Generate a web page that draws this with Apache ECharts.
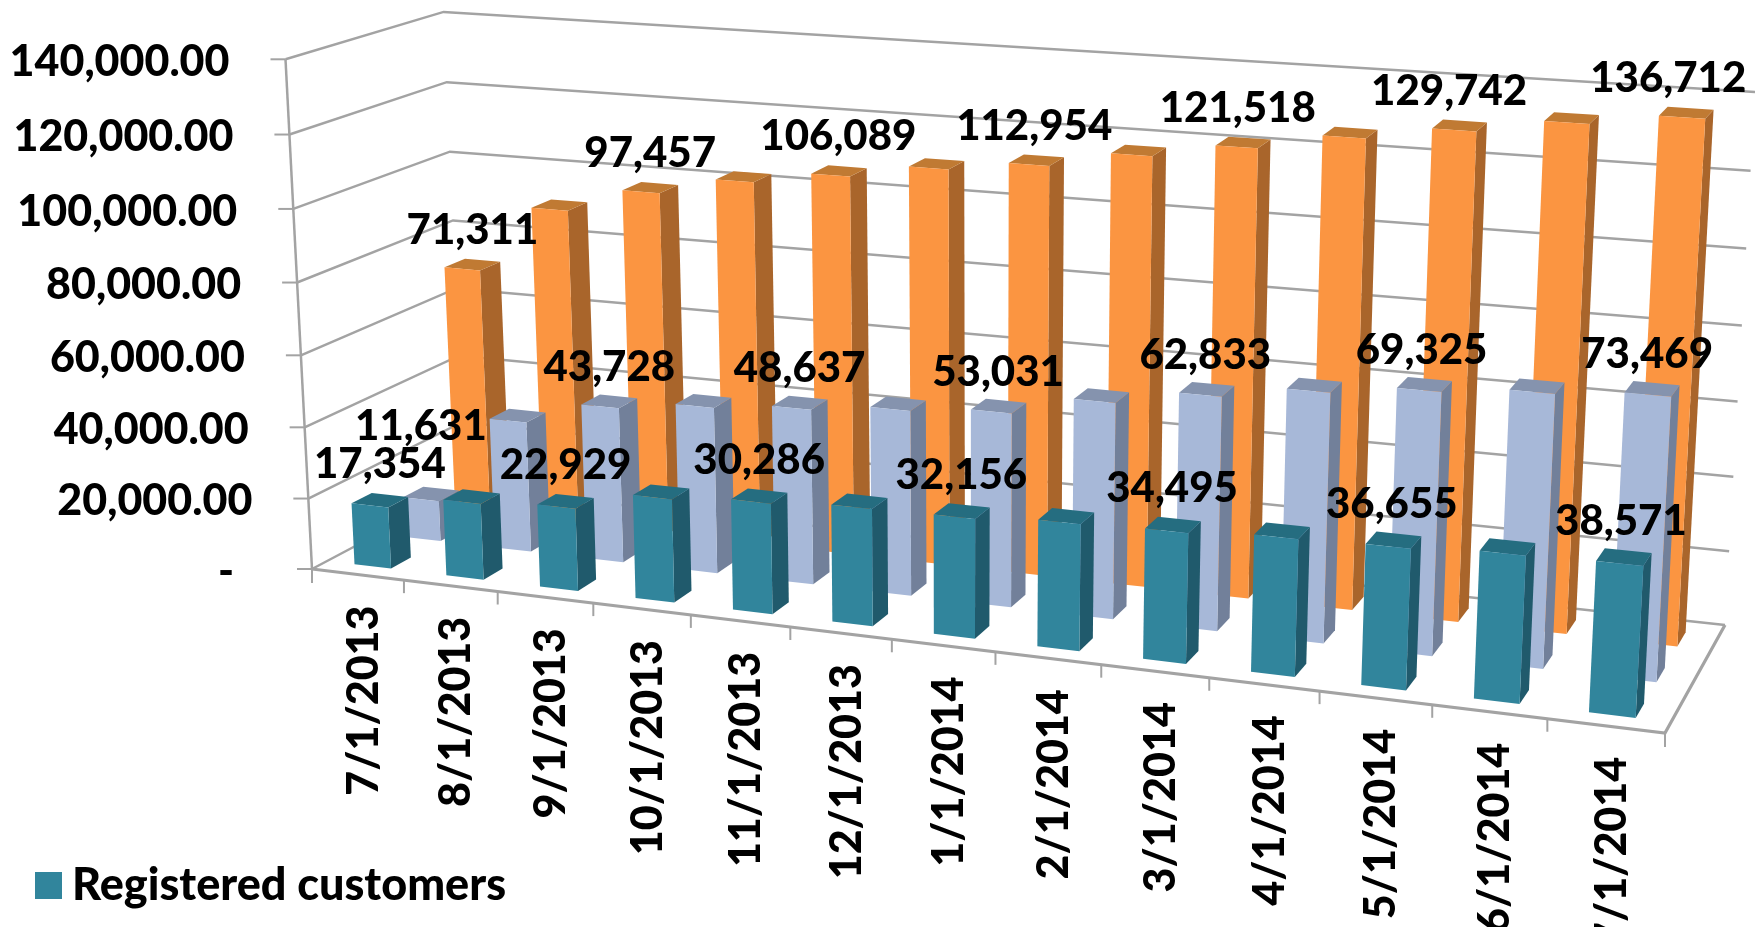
<!DOCTYPE html>
<html>
<head>
<meta charset="utf-8">
<style>html,body{margin:0;padding:0;background:#fff;overflow:hidden}#chart{width:1755px;height:927px}</style>
<script src="https://cdn.jsdelivr.net/npm/echarts@6/dist/echarts.min.js"></script>
</head>
<body>
<div id="chart"></div>
<script>
// Monthly customer counts, one list per row of bars (front to back).
const months = ['7/1/2013','8/1/2013','9/1/2013','10/1/2013','11/1/2013','12/1/2013','1/1/2014','2/1/2014','3/1/2014','4/1/2014','5/1/2014','6/1/2014','7/1/2014'];
const registered = [17354,21300,22929,28500,30286,31800,32156,33800,34495,36000,36655,38000,38571];
const middleRow = [11631,37000,43728,46500,48637,51000,53031,58500,62833,66500,69325,71500,73469];
const backRow = [71311,90500,97457,102500,106089,110000,112954,117500,121518,126000,129742,133500,136712];
const yTicks = [0,20000,40000,60000,80000,100000,120000,140000];
const yTickLabels = ['-','20,000.00','40,000.00','60,000.00','80,000.00','100,000.00','120,000.00','140,000.00'];

// View of the 3D box: where its corners land on the page.
const floor = {fl:[312,569], fr:[1665,733], br:[1725,625], bl:[465,488]};
const ceil  = {fl:[285.5,59.3], fr:[1695,160], br:[1755,92], bl:[443.6,11.9]};
const foreshortenX = -0.125, foreshortenY = -0.0375;
const GRID = '#a3a3a3';
const FAMILY = 'Lato, Carlito, "Noto Sans", sans-serif';
const FONT = '900 42px ' + FAMILY;
const AXIS_FONT = '900 43px ' + FAMILY;

function quad(q, s, d) {
  const a = [q.fl[0] + (q.fr[0]-q.fl[0])*s, q.fl[1] + (q.fr[1]-q.fl[1])*s];
  const b = [q.bl[0] + (q.br[0]-q.bl[0])*s, q.bl[1] + (q.br[1]-q.bl[1])*s];
  return [a[0] + (b[0]-a[0])*d, a[1] + (b[1]-a[1])*d];
}
// u along the months, d from front to back, v up the value scale (all 0..1).
function project(u, d, v) {
  const s = u*(1+foreshortenX)/(1+foreshortenX*u);
  const h = v*(1+foreshortenY)/(1+foreshortenY*v);
  const p0 = quad(floor, s, d), p1 = quad(ceil, s, d);
  return [p0[0] + (p1[0]-p0[0])*h, p0[1] + (p1[1]-p0[1])*h];
}
// Turn an axis position into the unit coordinates of the box.
function unit(params, api, cat, val) {
  const c = api.coord([cat, val]), r = params.coordSys;
  return {u:(c[0]-r.x)/r.width, v:(r.y+r.height-c[1])/r.height, band:api.size([1,0])[0]/r.width};
}

const ROWS = 3, BAR = 0.4;
function barRenderer(row, colors) {
  return function (params, api) {
    const m = unit(params, api, api.value(0), api.value(1));
    const u0 = m.u - m.band*BAR/2, u1 = m.u + m.band*BAR/2;
    const mid = (row+0.5)/ROWS, half = BAR/ROWS/2;
    const d0 = mid-half, d1 = mid+half, v = m.v;
    const A = project(u0,d0,0), B = project(u1,d0,0), C = project(u1,d1,0);
    const E = project(u0,d0,v), F = project(u1,d0,v), G = project(u1,d1,v), H = project(u0,d1,v);
    return {type:'group', children:[
      {type:'polygon', shape:{points:[B,C,G,F]}, style:{fill:colors.side}},
      {type:'polygon', shape:{points:[E,F,G,H]}, style:{fill:colors.top}},
      {type:'polygon', shape:{points:[A,B,F,E]}, style:{fill:colors.front}}
    ]};
  };
}
// Value labels sit above the bar, on every second month; drift pulls the
// right-hand ones back inside the page. The short first bar of the middle
// row has its label raised clear of its neighbour.
function labelRenderer(row, lift, drift, raised) {
  return function (params, api) {
    const cat = api.value(0), val = api.value(1);
    if (cat % 2) return null;
    const m = unit(params, api, cat, val);
    const p = project(m.u, (row+0.5)/ROWS, m.v);
    const t = cat/(months.length-1);
    let x = p[0] + drift*t*t*t, y = p[1]-lift;
    if (raised && cat === 0) { x += raised[0]; y += raised[1]; }
    return {type:'text', style:{text:val.toLocaleString('en-US'), x, y, font:FONT, fill:'#000', align:'center', verticalAlign:'middle'}};
  };
}
function line(points, width) {
  return {type:'polyline', shape:{points}, style:{stroke:GRID, lineWidth:width, fill:null}};
}
function wallRenderer(params, api) {
  const m = unit(params, api, 0, api.value(1));
  const idx = params.dataIndex;
  const a = project(0,0,m.v), b = project(0,1,m.v), c = project(1,1,m.v);
  const right = a[0] - (idx === 0 ? 78 : 56);
  return {type:'group', children:[
    line([a,b,c], 2.5),
    line([[a[0]-15,a[1]], a], 2),
    {type:'text', style:{text:yTickLabels[idx], x:right, y:a[1]+3, font:AXIS_FONT, fill:'#000', align:'right', verticalAlign:'middle'}}
  ]};
}
function frameRenderer(params, api) {
  const top = unit(params, api, 0, yTicks[yTicks.length-1]);
  return {type:'group', children:[
    line([project(0,0,0), project(0,0,top.v)], 2.5),
    line([project(0,0,0), project(1,0,0), project(1,1,0)], 3.2)
  ]};
}
function monthRenderer(params, api) {
  const cat = api.value(0);
  const m = unit(params, api, cat, 0);
  const t = project(m.u - m.band/2, 0, 0);
  const mid = project(m.u, 0, 0);
  const children = [
    line([t, [t[0], t[1]+(cat === 0 ? 14 : 13)]], 2),
    {type:'text', x:mid[0]+6, y:mid[1]+31, rotation:Math.PI/2,
     style:{text:months[cat], x:0, y:0, font:AXIS_FONT, fill:'#000', align:'right', verticalAlign:'middle'}}
  ];
  if (cat === months.length-1) {
    const e = project(1,0,0);
    children.push(line([e, [e[0], e[1]+14]], 2));
  }
  return {type:'group', children};
}
const pairs = list => list.map((v,i) => [i,v]);
const custom = (name, z, renderItem, data) => ({name, type:'custom', coordinateSystem:'cartesian2d', z, renderItem, data, silent:true, encode:{x:0,y:1}, animation:false});

const chart = echarts.init(document.getElementById('chart'), null, {renderer:'canvas'});
chart.setOption({
  animation:false,
  backgroundColor:'#fff',
  grid:{left:0,right:0,top:0,bottom:0},
  xAxis:{type:'category', data:months, show:false},
  yAxis:{type:'value', min:0, max:140000, interval:20000, show:false},
  legend:{data:[{name:'Registered customers', icon:'rect', itemStyle:{color:'#31859c'}}], left:30, top:858, itemWidth:27, itemHeight:27, itemGap:0, selectedMode:false,
          textStyle:{fontFamily:FAMILY, fontWeight:900, fontSize:45, color:'#000', padding:[0,0,0,5]}},
  series:[
    custom('Walls', 1, wallRenderer, yTicks.map(t => [0,t])),
    custom('Frame', 2, frameRenderer, [[0,0]]),
    custom('Months', 2, monthRenderer, months.map((m,i) => [i,0])),
    custom('Back row', 3, barRenderer(2,{front:'#fb9541',side:'#a9652b',top:'#c07a33'}), pairs(backRow)),
    custom('Middle row', 4, barRenderer(1,{front:'#a7b8d8',side:'#72809a',top:'#8593ae'}), pairs(middleRow)),
    Object.assign(custom('Registered customers', 5, barRenderer(0,{front:'#31859c',side:'#205a6c',top:'#256d80'}), pairs(registered)), {itemStyle:{color:'#31859c'}}),
    custom('Back labels', 6, labelRenderer(2,34,-18), pairs(backRow)),
    custom('Middle labels', 6, labelRenderer(1,34,-5,[-10,-33]), pairs(middleRow)),
    custom('Registered labels', 6, labelRenderer(0,36,-3), pairs(registered))
  ]
});
</script>
</body>
</html>
